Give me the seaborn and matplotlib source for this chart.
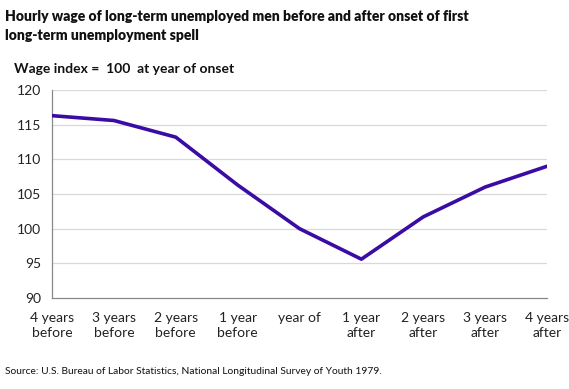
import matplotlib
matplotlib.use("Agg")
import matplotlib.pyplot as plt
import seaborn as sns
import pandas as pd

categories = ["4 years\nbefore", "3 years\nbefore", "2 years\nbefore", "1 year\nbefore",
              "year of", "1 year\nafter", "2 years\nafter", "3 years\nafter", "4 years\nafter"]
wage_index = [116.3, 115.6, 113.2, 106.3, 100.0, 95.6, 101.7, 106.0, 109.0]
y_ticks = [90, 95, 100, 105, 110, 115, 120]

sns.set_theme(style="white")
plt.rcParams['font.family'] = ['Lato', 'DejaVu Sans']

df = pd.DataFrame({"pos": range(len(categories)), "value": wage_index})

fig = plt.figure(figsize=(5.69, 3.89), dpi=100)
ax = fig.add_axes([52/569, 1-298/389, (547-52)/569, (298-90)/389])

for t in y_ticks[1:]:
    ax.axhline(t, color="#d9d9d9", lw=0.9, zorder=0)

sns.lineplot(data=df, x="pos", y="value", ax=ax, color="#3a0ca3", lw=2.6, zorder=3)

ax.set_xlim(0, len(categories)-1)
ax.set_ylim(90, 120)
ax.set_yticks(y_ticks)
ax.set_yticklabels([str(t) for t in y_ticks], fontsize=10, color="#222222")
ax.set_xticks(range(len(categories)))
ax.set_xticklabels(categories, fontsize=10, color="#222222", linespacing=1.3)
ax.set_xlabel("")
ax.set_ylabel("")
for s in ["top", "right"]:
    ax.spines[s].set_visible(False)
for s in ["left", "bottom"]:
    ax.spines[s].set_color("#888888")
    ax.spines[s].set_linewidth(0.9)
ax.tick_params(axis="x", which="major", direction="out", length=4, width=0.9, color="#888888", pad=6)
ax.tick_params(axis="y", which="major", length=0, pad=8)
for lbl in ax.get_xticklabels():
    lbl.set_clip_on(False)

fig.text(5/569, 1-10/389, "Hourly wage of long-term unemployed men before and after onset of first\nlong-term unemployment spell",
         fontsize=10, fontweight="heavy", ha="left", va="top", linespacing=1.5, color="#111111")
fig.text(14/569, 1-73/389, "Wage index =  100  at year of onset", fontsize=10, fontweight="bold",
         ha="left", va="baseline", color="#111111")
fig.text(5/569, 1-374/389, "Source: U.S. Bureau of Labor Statistics, National Longitudinal Survey of Youth 1979.",
         fontsize=7.4, ha="left", va="baseline", color="#111111")

fig.savefig("out.png", dpi=100)
